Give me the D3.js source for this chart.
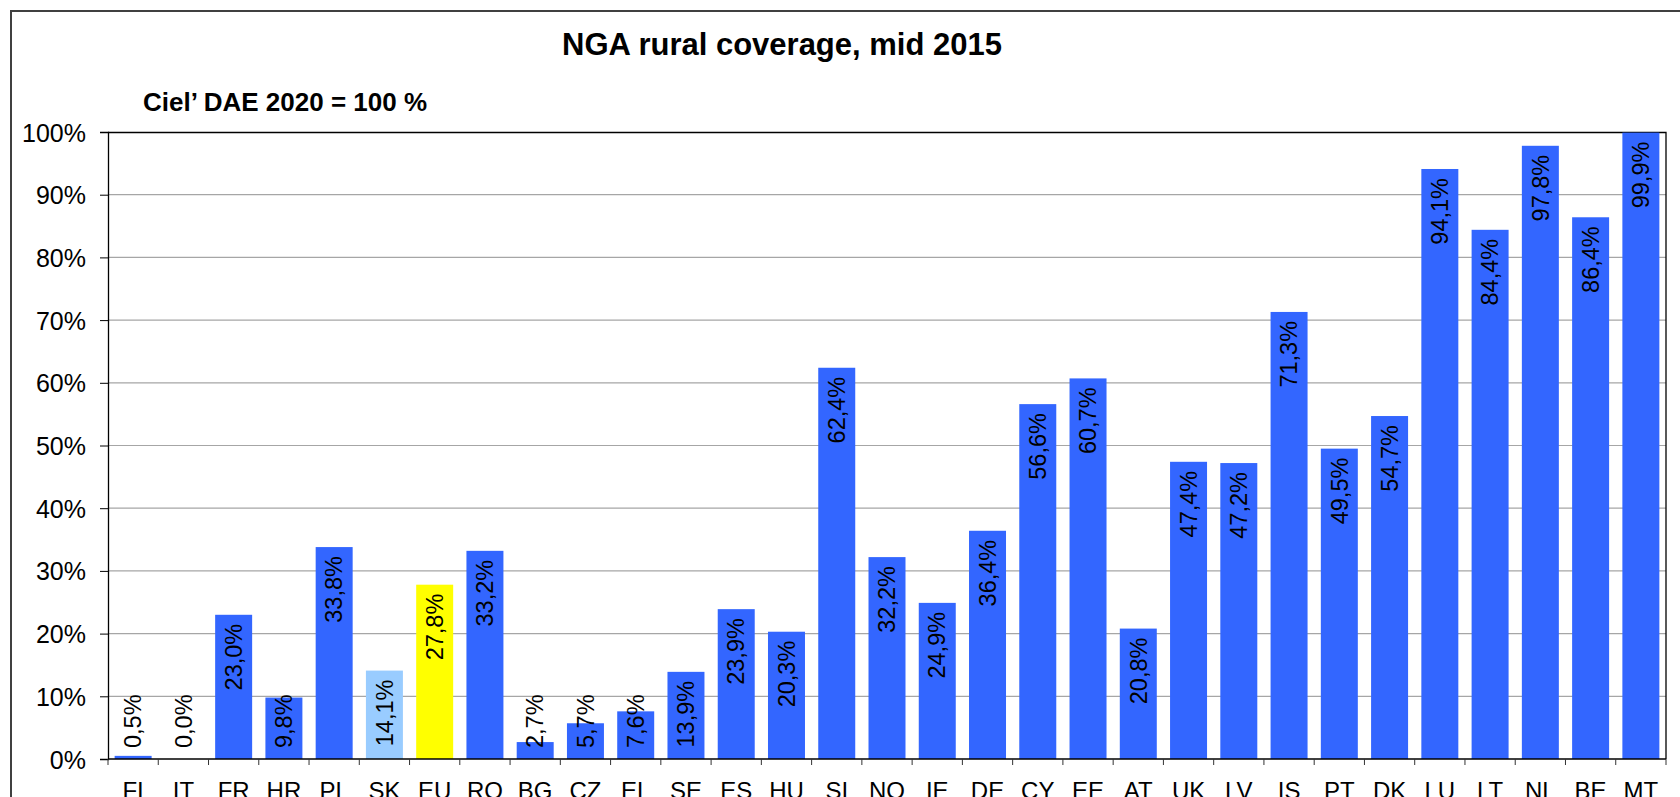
<!DOCTYPE html>
<html>
<head>
<meta charset="utf-8">
<script src="https://cdn.jsdelivr.net/npm/d3@7"></script>
<style>
  body { margin: 0; background: #fff; }
  svg { display: block; font-family: "Liberation Sans", Arial, sans-serif; }
</style>
</head>
<body>
<svg id="chart"></svg>
<script>
// countries, left to right
const categories = ["FI", "IT", "FR", "HR", "PL", "SK", "EU", "RO", "BG", "CZ", "EL", "SE", "ES", "HU", "SI", "NO",
    "IE", "DE", "CY", "EE", "AT", "UK", "LV", "IS", "PT", "DK", "LU", "LT", "NL", "BE", "MT"];
// rural NGA coverage in %
const values = [0.5, 0.0, 23.0, 9.8, 33.8, 14.1, 27.8, 33.2, 2.7, 5.7, 7.6, 13.9, 23.9, 20.3, 62.4, 32.2,
    24.9, 36.4, 56.6, 60.7, 20.8, 47.4, 47.2, 71.3, 49.5, 54.7, 94.1, 84.4, 97.8, 86.4, 99.9];
const yTicks = [0, 10, 20, 30, 40, 50, 60, 70, 80, 90, 100];

const title = "NGA rural coverage, mid 2015";
const subtitle = "Ciel\u2019 DAE 2020 = 100 %";

const width = 1680, height = 797;
const margin = { top: 132, right: 14, bottom: 38, left: 108 };
const innerW = width - margin.left - margin.right;
const innerH = height - margin.top - margin.bottom;

const barColor = c => c === "SK" ? "#99ccff" : c === "EU" ? "#ffff00" : "#3366ff";
const fmt = v => v.toFixed(1).replace(".", ",") + "%";

const svg = d3.select("#chart").attr("width", width).attr("height", height);

// outer chart frame (only left/top visible in the picture)
svg.append("path")
    .attr("d", `M11,${height + 2} V11 H${width + 2}`)
    .attr("fill", "none")
    .attr("stroke", "#404040")
    .attr("stroke-width", 2);

svg.append("text")
    .attr("x", 782).attr("y", 55)
    .attr("text-anchor", "middle")
    .style("font-weight", "bold")
    .style("font-size", "31px")
    .text(title);

svg.append("text")
    .attr("x", 143).attr("y", 111)
    .style("font-weight", "bold")
    .style("font-size", "26px")
    .text(subtitle);

const g = svg.append("g").attr("transform", `translate(${margin.left},${margin.top})`);

const x = d3.scaleBand().domain(categories).range([0, innerW]).paddingInner(0.264).paddingOuter(0.132);
const y = d3.scaleLinear().domain([0, 100]).range([innerH, 0]);

// gridlines
g.selectAll("line.grid")
    .data(yTicks.filter(t => t > 0 && t < 100))
    .join("line")
    .attr("class", "grid")
    .attr("x1", 0).attr("x2", innerW)
    .attr("y1", d => y(d)).attr("y2", d => y(d))
    .attr("stroke", "#a6a6a6")
    .attr("stroke-width", 1.2);

// plot frame top + right
g.append("path")
    .attr("d", `M0,0.5 H${innerW} V${innerH}`)
    .attr("fill", "none")
    .attr("stroke", "#000")
    .attr("stroke-width", 1.3);

const data = categories.map((c, i) => ({ c, v: values[i] }));

g.selectAll("rect.bar")
    .data(data)
    .join("rect")
    .attr("class", "bar")
    .attr("x", d => x(d.c))
    .attr("y", d => y(d.v))
    .attr("width", x.bandwidth())
    .attr("height", d => y(0) - y(d.v))
    .attr("fill", d => barColor(d.c));

// y axis
const yAxis = g.append("g")
    .call(d3.axisLeft(y).tickValues(yTicks).tickFormat(d => d + "%").tickSize(8).tickPadding(14));
yAxis.select(".domain").attr("stroke", "#000").attr("stroke-width", 1.3);
yAxis.selectAll("text")
    .style("font-family", "'Liberation Sans', Arial, sans-serif")
    .style("font-size", "25px")
    .attr("fill", "#000")
    .attr("dy", "0.36em");

// x axis: ticks between the categories
const xAxisG = g.append("g").attr("transform", `translate(0,${innerH})`);
xAxisG.append("line")
    .attr("x1", 0).attr("x2", innerW)
    .attr("stroke", "#000").attr("stroke-width", 1.3);
const step = x.step();
xAxisG.selectAll("line.tick")
    .data(d3.range(categories.length + 1))
    .join("line")
    .attr("class", "tick")
    .attr("x1", i => x(categories[0]) - step * 0.132 + i * step)
    .attr("x2", i => x(categories[0]) - step * 0.132 + i * step)
    .attr("y1", 0).attr("y2", 6)
    .attr("stroke", "#333");
xAxisG.selectAll("text.cat")
    .data(categories)
    .join("text")
    .attr("class", "cat")
    .attr("x", d => x(d) + x.bandwidth() / 2)
    .attr("y", 40)
    .attr("text-anchor", "middle")
    .style("font-family", "'Liberation Sans Narrow', 'Liberation Sans', Arial, sans-serif")
    .style("font-size", "24px")
    .text(d => d);

// value labels, rotated, at the inside end of the bar
const labels = g.selectAll("text.val")
    .data(data)
    .join("text")
    .attr("class", "val")
    .attr("dy", "0.35em")
    .style("font-size", "23.5px")
    .attr("fill", "#000")
    .text(d => fmt(d.v));

labels.each(function (d) {
    const len = this.getComputedTextLength();
    const bottom = Math.min(y(0) - 11, y(d.v) + 9 + len);
    const cx = x(d.c) + x.bandwidth() / 2;
    d3.select(this).attr("transform", `translate(${cx},${bottom}) rotate(-90)`);
});
</script>
</body>
</html>
